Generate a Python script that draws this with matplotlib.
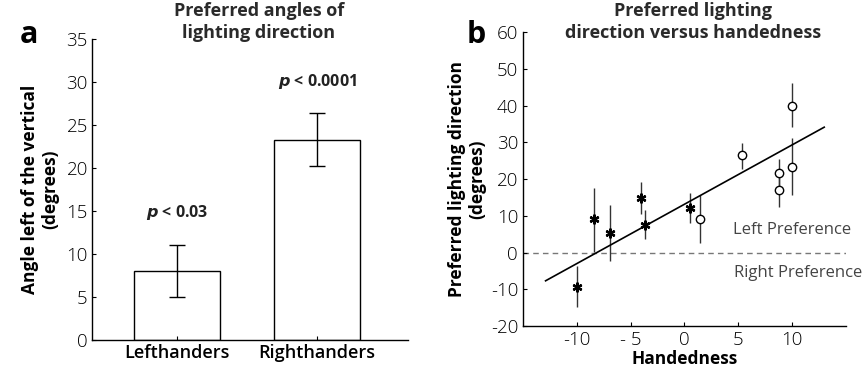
import numpy as np
import matplotlib
matplotlib.use("Agg")
import matplotlib.pyplot as plt

plt.rcParams.update({
    "font.family": ["Open Sans", "DejaVu Sans"],
    "font.size": 12,
    "axes.linewidth": 1.0,
    "axes.unicode_minus": False,
    "xtick.direction": "in",
    "ytick.direction": "in",
})

# ---------------- data ----------------
groups = ["Lefthanders", "Righthanders"]
angle_mean = [8.0, 23.3]
angle_lo = [5.0, 20.2]
angle_hi = [11.0, 26.4]
p_labels = ["< 0.03", "< 0.0001"]
p_y = [14.8, 30.0]

# left-handed (asterisk) subjects
left_x = [-10.0, -8.4, -6.9, -4.0, -3.7, 0.5]
left_y = [-9.3, 9.0, 5.4, 14.9, 7.5, 12.2]
left_lo = [-14.9, 0.1, -2.3, 10.5, 3.6, 8.0]
left_hi = [-3.8, 17.5, 13.0, 19.3, 11.5, 16.2]

# right-handed (open circle) subjects
right_x = [1.5, 5.4, 8.8, 8.8, 10.0, 10.0]
right_y = [9.2, 26.4, 21.5, 17.1, 40.0, 23.4]
right_lo = [2.5, 22.8, 17.8, 12.4, 34.2, 15.7]
right_hi = [15.7, 29.8, 25.5, 21.0, 46.1, 31.2]

fit_x = [-12.9, 13.0]
fit_y = [-7.7, 34.1]

fig = plt.figure(figsize=(8.63, 3.70), dpi=100)

# ---------------- panel a ----------------
axA = fig.add_axes([0.1066, 0.0811, 0.3662, 0.8135])
xa = np.arange(len(groups))
yerr_a = [np.subtract(angle_mean, angle_lo), np.subtract(angle_hi, angle_mean)]
axA.bar(xa, angle_mean, width=0.61, color="white", edgecolor="black", linewidth=1.0,
        yerr=yerr_a, capsize=6, error_kw={"elinewidth": 1.0, "capthick": 1.0})
for xi, yi, lab in zip(xa, p_y, p_labels):
    axA.text(xi, yi, r"$\bfit{p}$ " + lab, ha="center", va="center",
             fontsize=11.5, fontweight="bold", color="#222222")
axA.set_xlim(-0.607, 1.65)
axA.set_ylim(0, 35)
axA.set_yticks(np.arange(0, 36, 5))
axA.set_xticks(xa)
axA.set_xticklabels(groups, fontsize=13, fontweight="semibold")
axA.tick_params(axis="y", length=3, labelsize=13.5, pad=3)
axA.tick_params(axis="x", length=3, pad=3)
for t in axA.get_yticklabels():
    t.set_fontweight("light")
axA.spines["top"].set_visible(False)
axA.spines["right"].set_visible(False)
axA.set_ylabel("Angle left of the vertical\n(degrees)", fontsize=12.5,
               fontweight="bold", linespacing=1.15, labelpad=5)
fig.text(0.300, 0.94, "Preferred angles of\nlighting direction", ha="center",
         va="center", fontsize=13, fontweight="bold", linespacing=1.3, color="#2a2a2a")
fig.text(0.033, 0.905, "a", ha="center", va="center", fontsize=22, fontweight="bold")

# ---------------- panel b ----------------
axB = fig.add_axes([0.606, 0.1189, 0.374, 0.7946])
axB.axhline(0, color="#777777", lw=1.0, ls=(0, (4, 3)), zorder=1)
axB.errorbar(left_x, left_y,
             yerr=[np.subtract(left_y, left_lo), np.subtract(left_hi, left_y)],
             fmt="none", ecolor="#333333", elinewidth=1.0, zorder=2)
axB.errorbar(right_x, right_y,
             yerr=[np.subtract(right_y, right_lo), np.subtract(right_hi, right_y)],
             fmt="none", ecolor="#333333", elinewidth=1.0, zorder=2)
axB.plot(fit_x, fit_y, color="black", lw=1.2, zorder=3)
axB.plot(left_x, left_y, ls="none", marker=(6, 2, 0), ms=7, mew=1.6, color="black", zorder=4)
axB.plot(left_x, left_y, ls="none", marker="s", ms=3, color="black", zorder=4)
axB.plot(right_x, right_y, ls="none", marker="o", ms=6, mfc="white", mec="black",
         mew=1.0, zorder=4)
axB.text(4.5, 6.2, "Left Preference", ha="left", va="center", fontsize=12, color="#444444")
axB.text(4.65, -5.6, "Right Preference", ha="left", va="center", fontsize=12,
         color="#444444", clip_on=False)
axB.set_xlim(-15, 15)
axB.set_ylim(-20, 60)
axB.set_xticks([-10, -5, 0, 5, 10])
axB.set_xticklabels(["-10", "- 5", "0", "5", "10"])
axB.set_yticks(np.arange(-20, 61, 10))
axB.tick_params(axis="both", length=3, labelsize=13.5)
for t in axB.get_xticklabels() + axB.get_yticklabels():
    t.set_fontweight("light")
axB.spines["top"].set_visible(False)
axB.spines["right"].set_visible(False)
axB.set_xlabel("Handedness", fontsize=12.5, fontweight="bold", labelpad=1)
axB.set_ylabel("Preferred lighting direction\n(degrees)", fontsize=12.5,
               fontweight="bold", linespacing=1.15, labelpad=3)
fig.text(0.803, 0.94, "Preferred lighting\ndirection versus handedness", ha="center",
         va="center", fontsize=13, fontweight="bold", linespacing=1.3, color="#2a2a2a")
fig.text(0.552, 0.905, "b", ha="center", va="center", fontsize=22, fontweight="bold")

fig.savefig("out.png", dpi=100, facecolor="white")
